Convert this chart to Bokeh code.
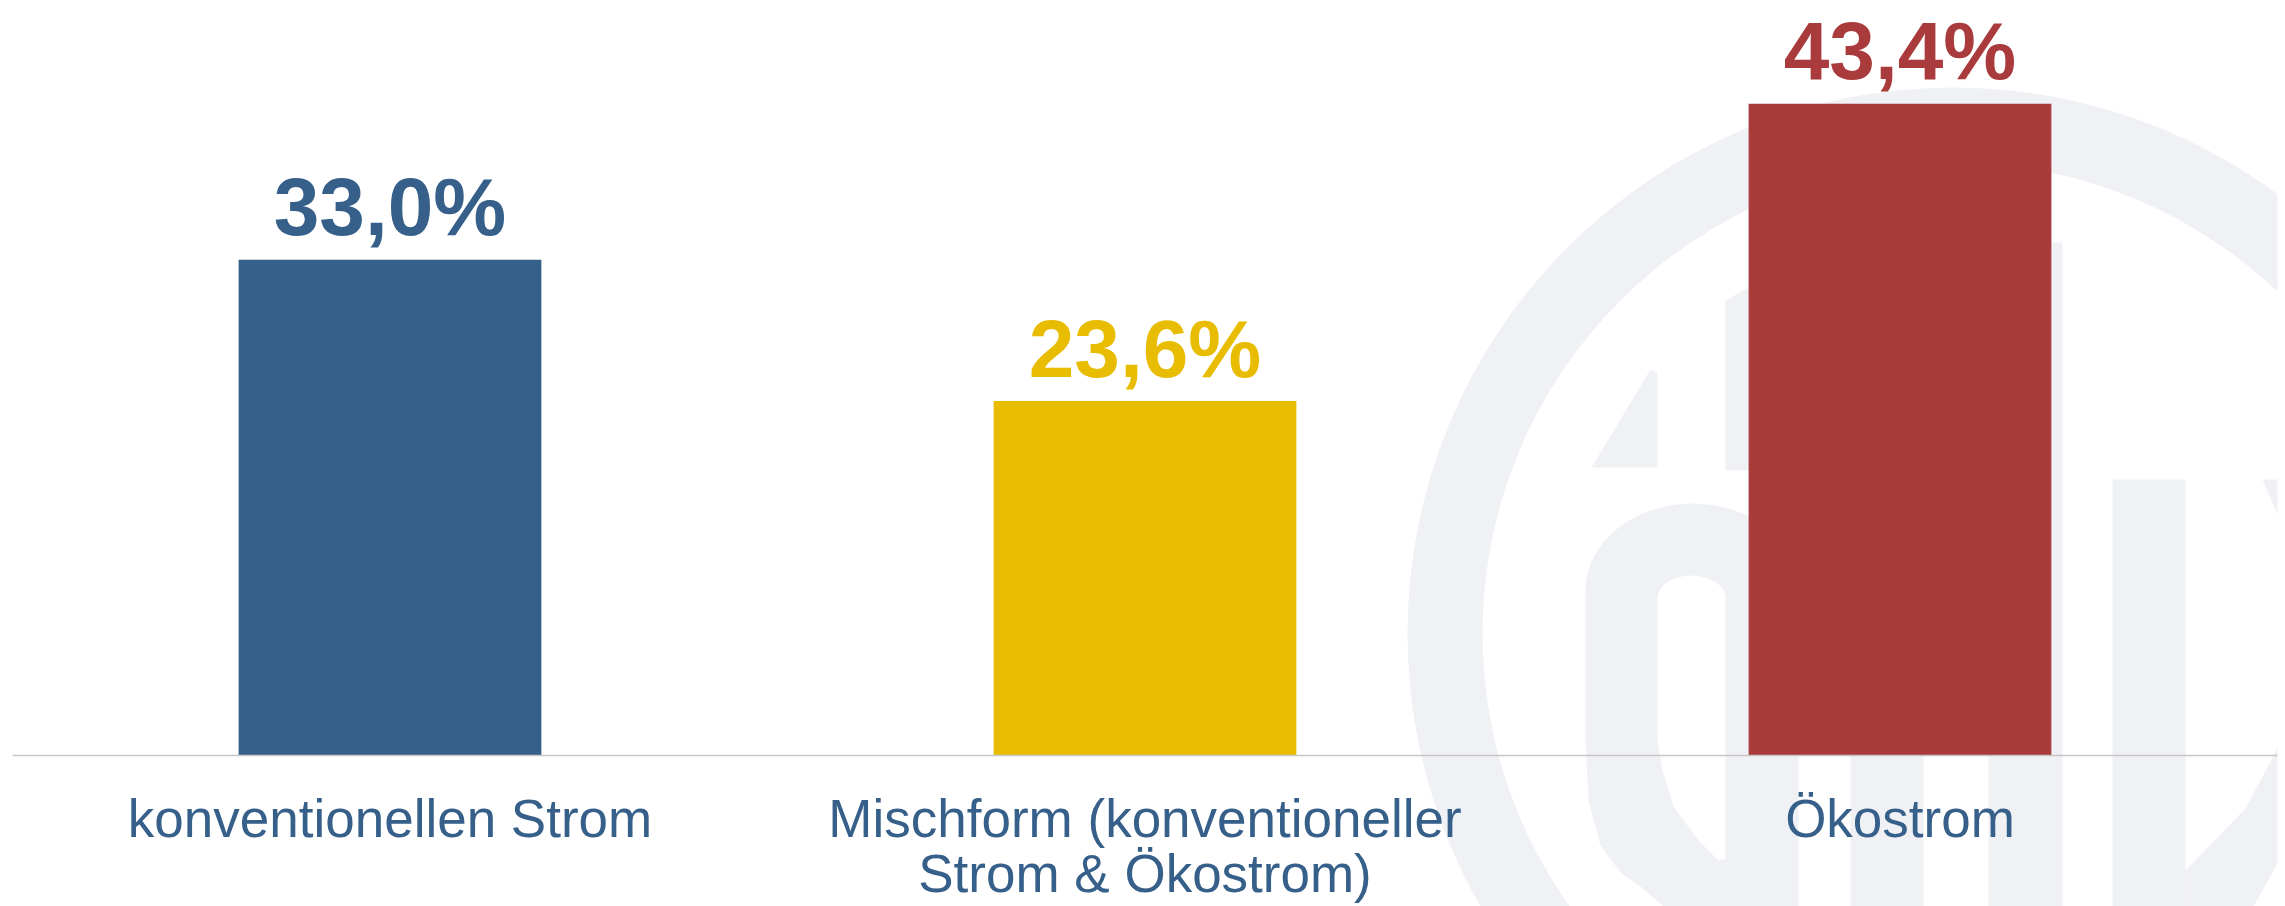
from bokeh.plotting import figure
from bokeh.models import FactorRange, Range1d, Span, ColumnDataSource
from bokeh.core.properties import value
from bokeh.embed import file_html
from bokeh.resources import INLINE

# ---------------- data ----------------
categories = ["konventionellen Strom", "Mischform (konventioneller\nStrom & Ökostrom)", "Ökostrom"]
values = [33.0, 23.6, 43.4]
value_labels = ["33,0%", "23,6%", "43,4%"]
bar_colors = ["#36608A", "#E8BC00", "#AA3B3C"]

label_line1 = [c.split("\n")[0] for c in categories]
label_line2 = [c.split("\n")[1] if "\n" in c else "" for c in categories]

# ---------------- layout constants ----------------
W, H = 2285, 906
PX_PER_CAT = 755.0       # px per category (frame width 2265 / 3)
PX_PER_UNIT = 15.02      # px per percentage point
BASE_PX = 755.0          # page y of the baseline
Y_TOP = BASE_PX / PX_PER_UNIT
Y_BOT = -(H - BASE_PX) / PX_PER_UNIT

p = figure(width=W, height=H,
           x_range=FactorRange(*categories, range_padding=0),
           y_range=Range1d(Y_BOT, Y_TOP),
           x_axis_location=None, y_axis_location=None,
           output_backend="svg", toolbar_location=None,
           min_border_left=12, min_border_right=8, min_border_top=0, min_border_bottom=0)
p.outline_line_color = None
p.background_fill_color = "white"
p.border_fill_color = "white"
for g in p.grid:
    g.visible = False

# ---------------- faint background logo (decoration) ----------------
WM = "#F0F1F5"
X0, Y0 = 12.0, BASE_PX  # page px of frame left / baseline


def wx(px):
    return (px - X0) / PX_PER_CAT


def wy(py):
    return (Y0 - py) / PX_PER_UNIT


def poly(pts):
    return [wx(a) for a, b in pts], [wy(b) for a, b in pts]


p.annulus(x=[wx(1953)], y=[wy(633)], inner_radius=471 / PX_PER_CAT,
          outer_radius=546 / PX_PER_CAT, fill_color=WM, line_color=None)

shapes = [
    # accent
    [(1591, 467), (1650, 369), (1657, 372), (1657, 467)],
    # upper stem of d
    [(1725, 300), (1752, 285), (1752, 470), (1725, 470)],
    # bowl + stem of d
    [(1585, 590), (1585, 740), (1588, 800), (1600, 845), (1620, 872), (1640, 886),
     (1663, 906), (1798, 906), (1798, 590)],
    # other stems
    [(1850, 480), (1923, 480), (1923, 906), (1850, 906)],
    [(1988, 242), (2062, 242), (2062, 906), (1988, 906)],
    [(2112, 479), (2185, 479), (2185, 906), (2112, 906)],
    # right curve pieces
    [(2262, 479), (2290, 479), (2290, 545)],
    [(2290, 700), (2276, 750), (2245, 808), (2190, 865), (2185, 870), (2185, 906),
     (2253, 906), (2290, 840)],
]
xs, ys = zip(*[poly(s) for s in shapes])
p.patches(xs=list(xs), ys=list(ys), fill_color=WM, line_color=None)
p.ellipse(x=[wx(1692)], y=[wy(590)], width=214 / PX_PER_CAT, height=174 / PX_PER_UNIT,
          fill_color=WM, line_color=None)
# hole of the d
hx, hy = poly([(1657, 597), (1725, 597), (1725, 858), (1718, 860), (1697, 839),
               (1673, 806), (1662, 770), (1657, 740)])
p.patch(x=hx, y=hy, fill_color="white", line_color=None)
p.ellipse(x=[wx(1691)], y=[wy(597)], width=68 / PX_PER_CAT, height=44 / PX_PER_UNIT,
          fill_color="white", line_color=None)

# ---------------- bars ----------------
src = ColumnDataSource(dict(cat=categories, val=values, lab=value_labels, col=bar_colors,
                            l1=label_line1, l2=label_line2, zero=[0] * len(categories)))
p.vbar(x="cat", top="val", bottom=0, width=0.401, fill_color="col", line_color=None, source=src)

p.add_layout(Span(location=0, dimension="width", line_color="#C6C6C6", line_width=1.5))

# value labels
p.text(x="cat", y="val", text="lab", text_color="col", source=src,
       text_font=value("Liberation Sans"), text_font_style="bold", text_font_size="82px",
       text_align="center", text_baseline="alphabetic", y_offset=-53)

# category labels
for col, off in (("l1", 63), ("l2", 118)):
    p.text(x="cat", y="zero", text=col, source=src, text_color="#36608A",
           text_font=value("Liberation Sans"), text_font_size="53px",
           text_align="center", text_baseline="alphabetic", y_offset=off)

open("out.html", "w").write(file_html(p, INLINE))
